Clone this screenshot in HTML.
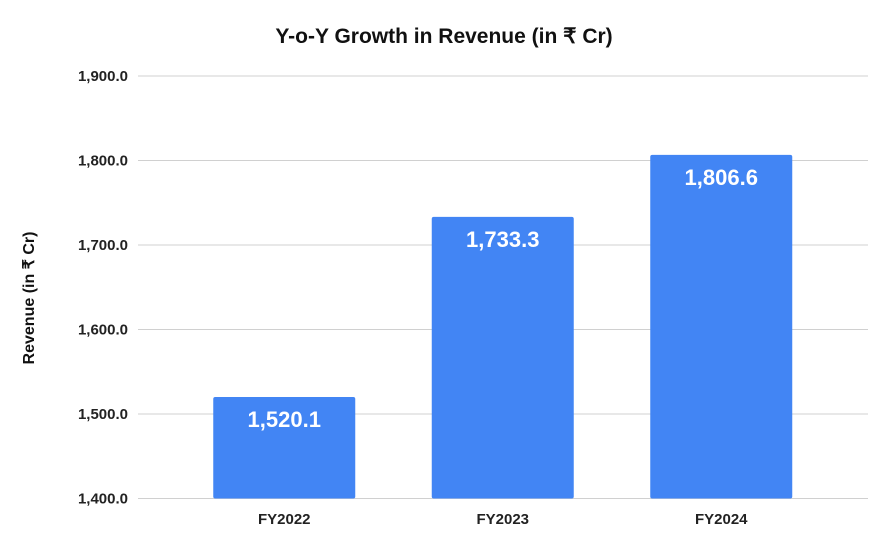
<!DOCTYPE html>
<html><head><meta charset="utf-8"><style>
body{margin:0;background:#fff;}
svg text{font-family:"Liberation Sans",Arial,sans-serif;}
</style></head><body>
<svg id="chart" width="888" height="548" xmlns="http://www.w3.org/2000/svg">
<rect width="888" height="548" fill="#fff"/>
<text x="444" y="43" text-anchor="middle" font-size="21" font-weight="bold" fill="#111">Y-o-Y Growth in Revenue (in ₹ Cr)</text>
<text transform="translate(34,298) rotate(-90)" text-anchor="middle" font-size="16" font-weight="bold" fill="#111">Revenue (in ₹ Cr)</text>
<g id="grid"></g><g id="bars"></g>
</svg>
<script>
const categories = ["FY2022","FY2023","FY2024"];
const revenue = [1520.1,1733.3,1806.6];
const yTicks = [1400,1500,1600,1700,1800,1900];
const ns="http://www.w3.org/2000/svg";
const yMin=1400,yMax=1900,yBottom=498.5,yTop=76;
function y(v){return yBottom-(v-yMin)/(yMax-yMin)*(yBottom-yTop);}
const bandStart=175,step=218.5,barW=142;
function xc(i){return bandStart+step*(i+0.5);}
const grid=document.getElementById('grid'),bars=document.getElementById('bars');
function mk(t,a,p){const e=document.createElementNS(ns,t);for(const k in a)e.setAttribute(k,a[k]);p.appendChild(e);return e;}
yTicks.forEach(t=>{
 const l=mk('line',{x1:138,x2:868,y1:y(t),y2:y(t),stroke:'#d0d0d0','stroke-width':1},grid);
 
 
 const tx=mk('text',{x:128,y:y(t)+5,'text-anchor':'end','font-size':'15','font-weight':'bold',fill:'#222'},grid);
 tx.textContent=t.toLocaleString('en-US',{minimumFractionDigits:1,maximumFractionDigits:1});
 
 
});
categories.forEach((c,i)=>{
 const v=revenue[i];
 const r=mk('rect',{x:xc(i)-barW/2,y:y(v),width:barW,height:y(yMin)-y(v),fill:'#4285f4',rx:2},bars);
 
 
 const lb=mk('text',{x:xc(i),y:y(v)+30,'text-anchor':'middle','font-size':'22','font-weight':'bold',fill:'#fff'},bars);
 lb.textContent=v.toLocaleString('en-US',{minimumFractionDigits:1,maximumFractionDigits:1});
 
 
 const xl=mk('text',{x:xc(i),y:524,'text-anchor':'middle','font-size':'15','font-weight':'bold',fill:'#222'},bars);
 xl.textContent=c;
 
 
});
</script>
</body></html>
